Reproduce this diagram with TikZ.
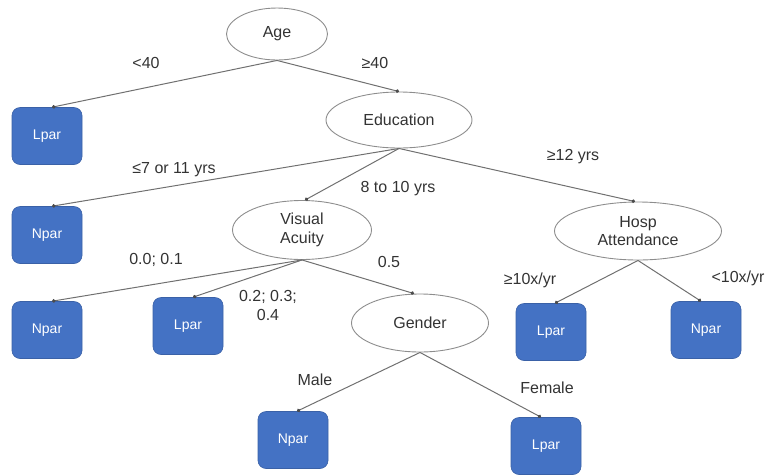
\documentclass[tikz,border=0pt]{standalone}
\usepackage{fontspec}
\setmainfont{Liberation Sans}
\usetikzlibrary{shapes.geometric,arrows.meta}
\definecolor{boxblue}{HTML}{4472C4}
\definecolor{txt}{HTML}{333333}
\definecolor{edgegray}{HTML}{707070}
\tikzset{
  ell/.style={ellipse,draw=edgegray!80,line width=0.9pt,inner sep=0pt,text=txt,font=\fontsize{16}{18.5}\selectfont,align=center},
  leaf/.style={rectangle,rounded corners=8pt,fill=boxblue,draw=boxblue!85!black,line width=0.6pt,text=white,minimum width=70pt,minimum height=57pt,font=\fontsize{14}{16}\selectfont},
  edge/.style={draw=edgegray,line width=1pt,-{Circle[length=3.5pt,black!70]}},
  lab/.style={text=txt,font=\fontsize{16}{19}\selectfont,align=center,inner sep=0pt}
}
\begin{document}
\begin{tikzpicture}[x=1pt,y=-1pt]
\useasboundingbox (0,0) rectangle (766,475);
% internal nodes
\node[ell,minimum width=101pt,minimum height=52pt] (age) at (277,34) {Age};
\node[ell,minimum width=146pt,minimum height=56pt] (edu) at (399,120) {Education};
\node[ell,minimum width=139pt,minimum height=59pt] (va) at (302,230) {Visual\\Acuity};
\node[ell,minimum width=167pt,minimum height=58pt] (hosp) at (638,231) {Hosp\\Attendance};
\node[ell,minimum width=137pt,minimum height=58pt] (gen) at (420,323) {Gender};
% leaves
\node[leaf] (l1) at (47,136) {Lpar};
\node[leaf] (n2) at (47,235) {Npar};
\node[leaf] (n3) at (47,330) {Npar};
\node[leaf] (l4) at (188,326) {Lpar};
\node[leaf] (n5) at (293,440) {Npar};
\node[leaf] (l6) at (546,446) {Lpar};
\node[leaf] (l7) at (551,332) {Lpar};
\node[leaf] (n8) at (706,330) {Npar};
% edges
\draw[edge] (age.south) -- ([xshift=5pt]l1.north);
\draw[edge] (age.south) -- (edu.north);
\draw[edge] (edu.south) -- ([xshift=5pt]n2.north);
\draw[edge] (edu.south) -- ([xshift=3pt]va.north);
\draw[edge] (edu.south) -- ([xshift=-3pt]hosp.north);
\draw[edge] (va.south) -- ([xshift=5pt]n3.north);
\draw[edge] (va.south) -- ([xshift=5pt]l4.north);
\draw[edge] (va.south) -- ([xshift=-6pt]gen.north);
\draw[edge] (gen.south) -- ([xshift=4pt]n5.north);
\draw[edge] (gen.south) -- ([xshift=-5pt]l6.north);
\draw[edge] (hosp.south) -- ([xshift=4pt]l7.north);
\draw[edge] (hosp.south) -- ([xshift=-5pt]n8.north);
% labels
\node[lab] (t1) at (146,63) {<40};
\node[lab] (t2) at (375,63) {≥40};
\node[lab] (t3) at (174,170) {≤7 or 11 yrs};
\node[lab] (t4) at (398,189) {8 to 10 yrs};
\node[lab] (t5) at (573,157) {≥12 yrs};
\node[lab] (t6) at (156,260) {0.0; 0.1};
\node[lab] (t7) at (389,262) {0.5};
\node[lab] (t8) at (268,305) {0.2; 0.3;\\0.4};
\node[lab] (t9) at (315,380) {Male};
\node[lab] (t10) at (547,388) {Female};
\node[lab] (t11) at (530,280) {≥10x/yr};
\node[lab] (t12) at (738,278) {<10x/yr};
\end{tikzpicture}
\end{document}
